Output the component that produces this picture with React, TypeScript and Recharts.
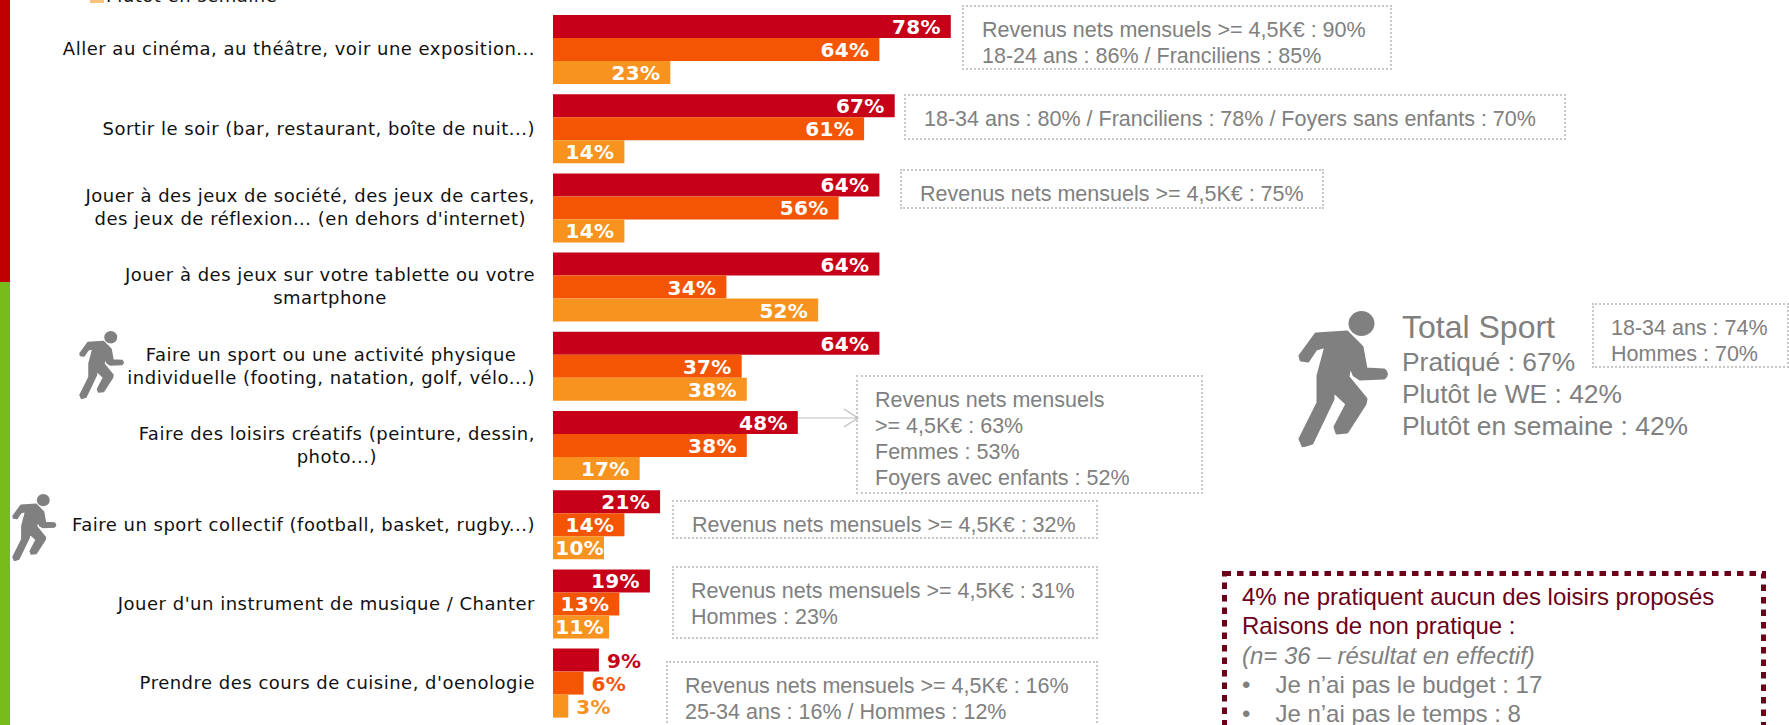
import { Bar, BarChart, LabelList, XAxis, YAxis } from "recharts";

const categories = [
  "Aller au cinéma, au théâtre, voir une exposition...",
  "Sortir le soir (bar, restaurant, boîte de nuit...)",
  "Jouer à des jeux de société, des jeux de cartes,\ndes jeux de réflexion... (en dehors d'internet)",
  "Jouer à des jeux sur votre tablette ou votre\nsmartphone",
  "Faire un sport ou une activité physique\nindividuelle (footing, natation, golf, vélo...)",
  "Faire des loisirs créatifs (peinture, dessin,\nphoto...)",
  "Faire un sport collectif (football, basket, rugby...)",
  "Jouer d'un instrument de musique / Chanter",
  "Prendre des cours de cuisine, d'oenologie",
];
const pratique = [78, 67, 64, 64, 64, 48, 21, 19, 9];
const plutotWe = [64, 61, 56, 34, 37, 38, 14, 13, 6];
const plutotSemaine = [23, 14, 14, 52, 38, 17, 10, 11, 3];

const data = categories.map((name, i) => ({
  name,
  pratique: pratique[i],
  plutotWe: plutotWe[i],
  plutotSemaine: plutotSemaine[i],
}));

const RED = "#C50018";
const ORANGE = "#F45505";
const AMBER = "#F7931E";
const GREY = "#808080";
const DARK_RED = "#6B0018";
const ARIAL = "'Liberation Sans', Arial, sans-serif";
const VERDANA = "'DejaVu Sans', Verdana, sans-serif";
const TICK_SIZE = 18;
const TICK_SPACING = 0.5;

const measure = (text: string, font: string) => {
  const ctx = document.createElement("canvas").getContext("2d")!;
  ctx.font = font;
  return ctx.measureText(text).width + text.length * TICK_SPACING;
};

const CategoryTick = ({ x, y, payload }: any) => {
  const lines: string[] = payload.value.split("\n");
  const widest = Math.max(...lines.map((l) => measure(l, `${TICK_SIZE}px 'DejaVu Sans'`)));
  const cx = x - 10 - widest / 2;
  const top = y - ((lines.length - 1) * 23) / 2;
  return (
    <text
      textAnchor="middle"
      fontFamily={VERDANA}
      fontSize={TICK_SIZE}
      letterSpacing={TICK_SPACING}
      fill="#111"
    >
      {lines.map((l, i) => (
        <tspan key={i} x={cx} y={top + i * 23 + 6}>
          {l}
        </tspan>
      ))}
    </text>
  );
};

const barLabel = (color: string) => (props: any) => {
  const { x, y, width, height, value } = props;
  const text = `${value}%`;
  const cy = y + height / 2 + 7.5;
  if (value < 10) {
    return (
      <text
        x={x + width + 8}
        y={cy}
        fill={color}
        fontFamily={VERDANA}
        fontWeight={700}
        fontSize={20}
        letterSpacing={0.3}
      >
        {text}
      </text>
    );
  }
  return (
    <text
      x={Math.max(x + width - 10, x + 51)}
      y={cy}
      textAnchor="end"
      fill="#fff"
      fontFamily={VERDANA}
      fontWeight={700}
      fontSize={20}
      letterSpacing={0.3}
    >
      {text}
    </text>
  );
};

const Note = ({ left, top, width, height, textLeft, lines }: any) => (
  <div
    style={{
      position: "absolute",
      left,
      top,
      width,
      height,
      boxSizing: "border-box",
      border: "2px dotted #c8c8c8",
    }}
  >
    <div
      style={{
        position: "absolute",
        left: textLeft - left - 2,
        top: 9.5,
        whiteSpace: "nowrap",
        font: `21.5px/26px ${ARIAL}`,
        color: GREY,
      }}
    >
      {lines.map((l: string) => (
        <div key={l}>{l}</div>
      ))}
    </div>
  </div>
);

const Runner = ({ left, top, h }: { left: number; top: number; h: number }) => (
  <svg
    style={{ position: "absolute", left, top }}
    width={(h * 92) / 136}
    height={h}
    viewBox="0 0 92 136"
  >
    <ellipse cx="63.5" cy="12.5" rx="13" ry="12.5" fill={GREY} />
    <path
      d="M18 23 L49 21 L64 36 L68 58 L86 59 Q91 63 86 67 L62 68 L56 64 L52 54 L50 66 L68 88 L67 93 L49 121 L39 122 L37 116 L49 93 L35 80 L35 88 L14 132 L5 135 L2 128 L20 92 L20 65 L28 35 L18 38 L10 50 L3 49 L2 45 Z"
      fill={GREY}
      stroke={GREY}
      strokeWidth={3}
      strokeLinejoin="round"
    />
  </svg>
);

const App = () => (
  <div style={{ position: "absolute", left: 0, top: 0, width: 1789, height: 725, overflow: "hidden", background: "#fff" }}>
    <div style={{ position: "absolute", left: 0, top: 0, width: 10, height: 282, background: "#C00000" }} />
    <div style={{ position: "absolute", left: 0, top: 282, width: 10, height: 443, background: "#78BB1A" }} />

    {/* legend, cut off by the top of the slide */}
    <div style={{ position: "absolute", left: 90, top: -8, width: 14, height: 11, background: "#FBC27A" }} />
    <div
      style={{
        position: "absolute",
        left: 106,
        top: -15,
        font: `${TICK_SIZE}px ${VERDANA}`,
        letterSpacing: TICK_SPACING,
        color: "#111",
        whiteSpace: "nowrap",
      }}
    >
      Plutôt en semaine
    </div>

    <BarChart
      width={1789}
      height={725}
      data={data}
      layout="vertical"
      barCategoryGap={5.3}
      barGap={0}
      margin={{ top: 9.7, right: 726, bottom: 2.5, left: 0 }}
      style={{ position: "absolute", left: 0, top: 0 }}
    >
      <XAxis type="number" domain={[0, 100]} hide />
      <YAxis
        type="category"
        dataKey="name"
        width={553}
        axisLine={false}
        tickLine={false}
        interval={0}
        tick={<CategoryTick />}
      />
      <Bar dataKey="pratique" name="Pratiqué" fill={RED} isAnimationActive={false}>
        <LabelList dataKey="pratique" content={barLabel(RED)} />
      </Bar>
      <Bar dataKey="plutotWe" name="Plutôt le WE" fill={ORANGE} isAnimationActive={false}>
        <LabelList dataKey="plutotWe" content={barLabel(ORANGE)} />
      </Bar>
      <Bar dataKey="plutotSemaine" name="Plutôt en semaine" fill={AMBER} isAnimationActive={false}>
        <LabelList dataKey="plutotSemaine" content={barLabel(AMBER)} />
      </Bar>
    </BarChart>

    <Runner left={79} top={331} h={68} />
    <Runner left={12} top={494} h={67} />
    <Runner left={1298} top={311} h={136} />

    <Note left={962} top={5} width={430} height={65} textLeft={982} lines={["Revenus nets mensuels >= 4,5K€ : 90%", "18-24 ans : 86% / Franciliens : 85%"]} />
    <Note left={904} top={94} width={662} height={46} textLeft={924} lines={["18-34 ans : 80% / Franciliens : 78% / Foyers sans enfants : 70%"]} />
    <Note left={900} top={169} width={424} height={40} textLeft={920} lines={["Revenus nets mensuels >= 4,5K€ : 75%"]} />
    <Note left={1592} top={303} width={197} height={65} textLeft={1611} lines={["18-34 ans : 74%", "Hommes : 70%"]} />
    <Note left={856} top={375} width={347} height={119} textLeft={875} lines={["Revenus nets mensuels", ">= 4,5K€ : 63%", "Femmes : 53%", "Foyers avec enfants : 52%"]} />
    <Note left={672} top={500} width={426} height={39} textLeft={692} lines={["Revenus nets mensuels >= 4,5K€ : 32%"]} />
    <Note left={672} top={566} width={426} height={73} textLeft={691} lines={["Revenus nets mensuels >= 4,5K€ : 31%", "Hommes : 23%"]} />
    <Note left={666} top={661} width={432} height={90} textLeft={685} lines={["Revenus nets mensuels >= 4,5K€ : 16%", "25-34 ans : 16% / Hommes : 12%"]} />

    {/* arrow from the loisirs creatifs bar to its note */}
    <svg style={{ position: "absolute", left: 798, top: 405, overflow: "visible" }} width={60} height={26}>
      <path d="M0 13 H60 M46 4 L60 13 L46 22" fill="none" stroke="#bdbdbd" strokeWidth={1.2} />
    </svg>

    <div style={{ position: "absolute", left: 1402, top: 308, font: `32px/38px ${ARIAL}`, color: GREY, whiteSpace: "nowrap" }}>
      Total Sport
    </div>
    <div style={{ position: "absolute", left: 1402, top: 346, font: `26.4px/32px ${ARIAL}`, color: GREY, whiteSpace: "nowrap" }}>
      <div>Pratiqué : 67%</div>
      <div>Plutôt le WE : 42%</div>
      <div>Plutôt en semaine : 42%</div>
    </div>

    <svg style={{ position: "absolute", left: 1222, top: 571 }} width={545} height={160}>
      <rect x={2.5} y={2.5} width={539} height={200} fill="none" stroke={DARK_RED} strokeWidth={5} strokeDasharray="6.5 6" />
    </svg>
    <div style={{ position: "absolute", left: 1242, top: 582, font: `24px/29.3px ${ARIAL}`, color: DARK_RED, whiteSpace: "nowrap" }}>
      <div>4% ne pratiquent aucun des loisirs proposés</div>
      <div>Raisons de non pratique :</div>
      <div style={{ color: GREY, fontStyle: "italic" }}>(n= 36 – résultat en effectif)</div>
      <div style={{ color: GREY }}>
        •<span style={{ marginLeft: 25 }}>Je n’ai pas le budget : 17</span>
      </div>
      <div style={{ color: GREY }}>
        •<span style={{ marginLeft: 25 }}>Je n’ai pas le temps : 8</span>
      </div>
    </div>
  </div>
);

export default App;
